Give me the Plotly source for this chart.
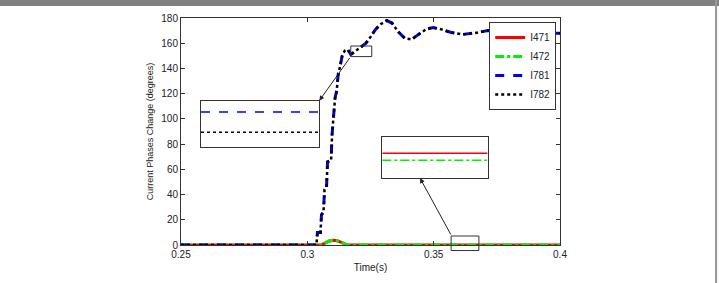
import plotly.graph_objects as go

# ---- data ----
t_phase = [0.25, 0.3036, 0.3040, 0.3052, 0.3056, 0.3064, 0.3068, 0.3076, 0.3080, 0.3094,
           0.3098, 0.3102, 0.3110, 0.3116, 0.3122, 0.3130, 0.3138, 0.3148, 0.3160, 0.3172,
           0.3185, 0.3200, 0.3215, 0.3232, 0.3250, 0.3270, 0.3290, 0.3314, 0.3335, 0.3360,
           0.3385, 0.3413, 0.3440, 0.3470, 0.3497, 0.3530, 0.3570, 0.3616, 0.3660, 0.3715,
           0.3760, 0.3850, 0.4000]
i781 = [0, 0, 10, 10, 24, 26, 44, 46, 66, 67,
        88, 100, 117, 122, 135, 142, 150, 154, 155, 151,
        153, 155, 157, 160, 165, 171, 175, 178, 176, 169,
        164, 163, 167, 171, 172.5, 171, 168.5, 167, 168, 170,
        169.5, 168, 168]
i782 = [0, 0, 10, 10, 24, 26, 44, 46, 66, 67,
        88, 100, 117, 122, 135, 142, 150, 154, 155, 151,
        153, 155, 157, 160, 165, 171, 175, 178, 176, 169,
        164, 163, 167, 171, 172.5, 171, 168.5, 167, 168, 170,
        169.5, 168, 168]

t_small = [0.25, 0.3055, 0.3070, 0.3085, 0.3100, 0.3115, 0.3130, 0.3145, 0.3158, 0.4]
i471 = [0, 0, 1.5, 3.0, 3.8, 3.5, 2.5, 1.0, 0, 0]
i472 = [0, 0, 1.5, 3.0, 3.8, 3.5, 2.5, 1.0, 0, 0]

# zoomed insets (normalised inset coordinates)
inset_x = [0, 1]
inset1_i781 = [0.756, 0.756]
inset1_i782 = [0.315, 0.315]
inset2_i471 = [0.606, 0.606]
inset2_i472 = [0.434, 0.434]

x_ticks = [0.25, 0.3, 0.35, 0.4]
x_ticklabels = ["0.25", "0.3", "0.35", "0.4"]
y_ticks = [0, 20, 40, 60, 80, 100, 120, 140, 160, 180]

FONT = "Liberation Sans, Arial, sans-serif"
RED = "#ff0000"
GREEN = "#00ee00"
BLUE = "#0000ee"
BLACK = "#000000"

fig = go.Figure()
fig.add_trace(go.Scatter(x=t_small, y=i471, name="I471", mode="lines",
                         line=dict(color=RED, width=3, dash="solid")))
fig.add_trace(go.Scatter(x=t_small, y=i472, name="I472", mode="lines",
                         line=dict(color=GREEN, width=3, dash="dashdot")))
fig.add_trace(go.Scatter(x=t_phase, y=i781, name="I781", mode="lines",
                         line=dict(color=BLUE, width=3, dash="dash")))
fig.add_trace(go.Scatter(x=t_phase, y=i782, name="I782", mode="lines",
                         line=dict(color=BLACK, width=2.5, dash="dot")))

# inset axes
fig.add_trace(go.Scatter(x=inset_x, y=inset1_i781, xaxis="x2", yaxis="y2", mode="lines",
                         showlegend=False, line=dict(color=BLUE, width=1.5, dash="dash")))
fig.add_trace(go.Scatter(x=inset_x, y=inset1_i782, xaxis="x2", yaxis="y2", mode="lines",
                         showlegend=False, line=dict(color=BLACK, width=1.5, dash="dot")))
fig.add_trace(go.Scatter(x=inset_x, y=inset2_i471, xaxis="x3", yaxis="y3", mode="lines",
                         showlegend=False, line=dict(color=RED, width=1.5)))
fig.add_trace(go.Scatter(x=inset_x, y=inset2_i472, xaxis="x3", yaxis="y3", mode="lines",
                         showlegend=False, line=dict(color=GREEN, width=1.5, dash="dashdot")))

inset_axis = dict(range=[0, 1], showticklabels=False, ticks="", showgrid=False,
                  zeroline=False, showline=True, linecolor="#333", linewidth=1,
                  mirror=True, fixedrange=True)

fig.update_layout(
    width=719, height=283,
    margin=dict(l=181, r=159, t=15, b=33),
    paper_bgcolor="white", plot_bgcolor="white",
    font=dict(family=FONT, size=10, color="#222"),
    xaxis=dict(range=[0.25, 0.4], tickvals=x_ticks, ticktext=x_ticklabels,
               ticks="inside", ticklen=4, tickcolor="#333", showgrid=False, zeroline=False,
               showline=True, linecolor="#333", linewidth=1, mirror="ticks",
               title=dict(text="Time(s)", font=dict(size=10), standoff=4)),
    yaxis=dict(range=[0, 180], tickvals=y_ticks,
               ticks="inside", ticklen=4, tickcolor="#333", showgrid=False, zeroline=False,
               showline=True, linecolor="#333", linewidth=1, mirror="ticks",
               title=dict(text="Current Phases Change (degrees)", font=dict(size=9), standoff=6)),
    xaxis2=dict(domain=[0.0528, 0.365], anchor="y2", **inset_axis),
    yaxis2=dict(domain=[0.4328, 0.6353], anchor="x2", **inset_axis),
    xaxis3=dict(domain=[0.531, 0.809], anchor="y3", **inset_axis),
    yaxis3=dict(domain=[0.295, 0.475], anchor="x3", **inset_axis),
    legend=dict(x=0.99, y=0.982, xanchor="right", yanchor="top",
                bgcolor="white", bordercolor="#333", borderwidth=1,
                font=dict(size=10, family=FONT), tracegroupgap=0,
                itemwidth=30),
    showlegend=True,
)

# small zoom boxes
fig.add_shape(type="rect", xref="x", yref="y", x0=0.3172, x1=0.3255, y0=149.4, y1=157.8,
              line=dict(color="#333", width=1))
fig.add_shape(type="rect", xref="x", yref="paper", x0=0.3569, x1=0.3679, y0=-0.0243, y1=0.0396,
              line=dict(color="#333", width=1))

# arrows
fig.add_annotation(x=0.30473, y=114.4, ax=0.31716, ay=149.4, xref="x", yref="y",
                   axref="x", ayref="y", text="", showarrow=True, arrowhead=2,
                   arrowsize=1, arrowwidth=1, arrowcolor="#222")
fig.add_annotation(x=0.34458, y=53.1, ax=0.35712, ay=7.1, xref="x", yref="y",
                   axref="x", ayref="y", text="", showarrow=True, arrowhead=2,
                   arrowsize=1, arrowwidth=1, arrowcolor="#222")

# image frame (grey border top and right)
fig.add_shape(type="rect", xref="paper", yref="paper", x0=-0.6, x1=1.5, y0=1.0532, y1=1.1,
              line=dict(width=0), fillcolor="#808080", layer="above")
fig.add_shape(type="rect", xref="paper", yref="paper", x0=1.409, x1=1.4145, y0=-0.2, y1=1.1,
              line=dict(width=0), fillcolor="#999999", layer="above")

fig.write_html("out.html")
